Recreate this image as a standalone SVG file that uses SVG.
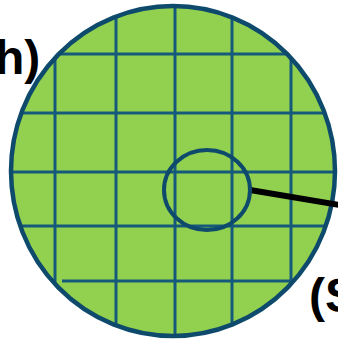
<svg xmlns="http://www.w3.org/2000/svg" width="338" height="342" viewBox="0 0 338 342">
<style>
.grid{stroke:#165a7b;stroke-width:3;fill:none}
.lbl{font-family:"Liberation Sans",Arial,sans-serif;font-weight:bold;font-size:48px;fill:#000}
</style>
<defs>
<clipPath id="disc"><ellipse cx="173" cy="171" rx="162" ry="165"/></clipPath>
</defs>
<rect width="338" height="342" fill="#fff"/>
<g id="wafer">
<ellipse cx="173" cy="171" rx="162" ry="165" fill="#92d050"/>
<g id="grid" class="grid" clip-path="url(#disc)">
<line x1="55" y1="0" x2="55" y2="342"/>
<line x1="116" y1="0" x2="116" y2="342"/>
<line x1="175" y1="0" x2="175" y2="342"/>
<line x1="232" y1="0" x2="232" y2="342"/>
<line x1="291" y1="0" x2="291" y2="342"/>
<line x1="0" y1="54" x2="338" y2="54"/>
<line x1="0" y1="113" x2="326" y2="113"/>
<line x1="0" y1="172" x2="338" y2="172"/>
<line x1="0" y1="226" x2="324" y2="226"/>
<line x1="62" y1="281" x2="338" y2="281"/>
</g>
<ellipse cx="173" cy="171" rx="162" ry="165" fill="none" stroke="#0e4a6c" stroke-width="4.5"/>
</g>
<g id="connectors">
<line x1="250" y1="190" x2="340" y2="205" stroke="#000" stroke-width="6"/>
</g>
<g id="die">
<ellipse cx="207" cy="190" rx="43" ry="40" fill="none" stroke="#0e4a6c" stroke-width="4"/>
</g>
<g id="labels">
<text class="lbl" x="-5" y="74">h)</text>
<text class="lbl" x="309" y="312">(S</text>
</g>
</svg>
